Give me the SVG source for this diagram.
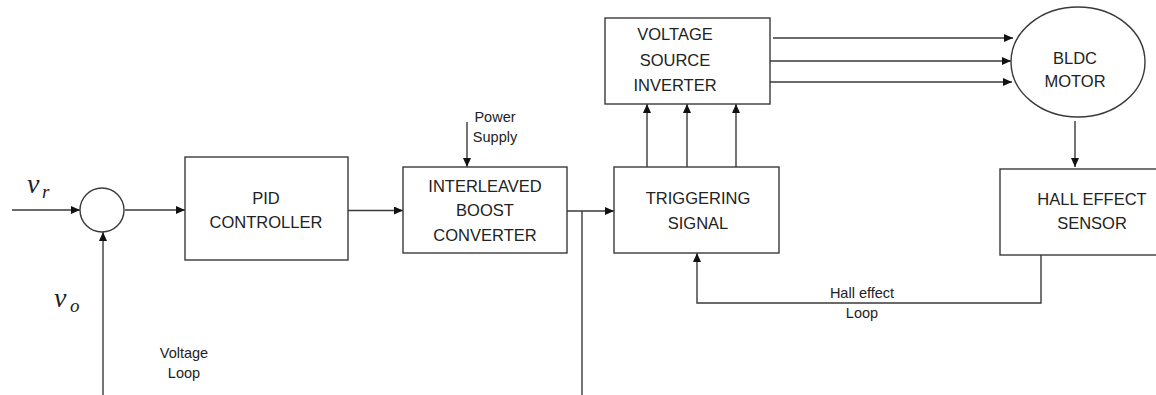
<svg xmlns="http://www.w3.org/2000/svg" width="1156" height="395" viewBox="0 0 1156 395">
<style>
.box{fill:#fff;stroke:#3a3a3a;stroke-width:1.4}
.lbl{font-family:"Liberation Sans",Arial,sans-serif;font-size:16.5px;fill:#222;text-anchor:middle;dominant-baseline:central}
.sm{font-family:"Liberation Sans",Arial,sans-serif;font-size:14.5px;fill:#222;text-anchor:middle;dominant-baseline:central}
.math{font-family:"Liberation Serif","Times New Roman",serif;font-style:italic;fill:#222}
.ln{fill:none;stroke:#3a3a3a;stroke-width:1.4}
.ar{marker-end:url(#ah)}
</style>
<defs>
<marker id="ah" markerUnits="userSpaceOnUse" markerWidth="9" markerHeight="8" refX="9" refY="4" orient="auto">
<path d="M0,0 L9,4 L0,8 z" fill="#111"/>
</marker>
</defs>
<rect width="1156" height="395" fill="#fff"/>

<g id="connectors">
<path class="ln ar" d="M12,210 H80"/>
<path class="ln ar" d="M125,210 H185"/>
<path class="ln ar" d="M348,210.5 H403"/>
<path class="ln ar" d="M467,122 V167"/>
<path class="ln ar" d="M567,211 H614"/>
<path class="ln" d="M582,211 V395"/>
<path class="ln ar" d="M103,395 V232"/>
<path class="ln ar" d="M647,167 V104"/>
<path class="ln ar" d="M687,167 V104"/>
<path class="ln ar" d="M736,167 V104"/>
<path class="ln ar" d="M773,38 H1013"/>
<path class="ln ar" d="M770,61 H1011"/>
<path class="ln ar" d="M770,82 H1012"/>
<path class="ln ar" d="M1075,121 V167"/>
<path class="ln ar" d="M1041,255 V303 H697 V253"/>
</g>

<g id="sum">
<circle cx="102" cy="210" r="22" class="box"/>
</g>
<g id="vr">
<text class="math" x="27" y="193" font-size="28">v</text>
<text class="math" x="42" y="198" font-size="19">r</text>
</g>
<g id="vo">
<text class="math" x="54" y="307" font-size="28">v</text>
<text class="math" x="70" y="312" font-size="19">o</text>
</g>

<g id="pid">
<rect x="185" y="157" width="163" height="103" class="box"/>
<text class="lbl" x="266" y="198">PID</text>
<text class="lbl" x="266" y="222">CONTROLLER</text>
</g>

<g id="ibc">
<rect x="403" y="167" width="164" height="86" class="box"/>
<text class="lbl" x="485" y="186">INTERLEAVED</text>
<text class="lbl" x="485" y="210">BOOST</text>
<text class="lbl" x="485" y="235">CONVERTER</text>
</g>

<g id="power">
<text class="sm" x="495" y="117">Power</text>
<text class="sm" x="495" y="137">Supply</text>
</g>

<g id="vsi">
<rect x="605" y="18" width="165" height="86" class="box"/>
<text class="lbl" x="675" y="34">VOLTAGE</text>
<text class="lbl" x="675" y="60">SOURCE</text>
<text class="lbl" x="675" y="85">INVERTER</text>
</g>

<g id="trig">
<rect x="614" y="167" width="165" height="86" class="box"/>
<text class="lbl" x="698" y="198">TRIGGERING</text>
<text class="lbl" x="698" y="223">SIGNAL</text>
</g>

<g id="motor">
<ellipse cx="1078" cy="62" rx="67" ry="55" class="box"/>
<text class="lbl" x="1075" y="58">BLDC</text>
<text class="lbl" x="1075" y="81">MOTOR</text>
</g>

<g id="hall">
<rect x="1000" y="169" width="170" height="86" class="box"/>
<text class="lbl" x="1092" y="199">HALL EFFECT</text>
<text class="lbl" x="1092" y="223">SENSOR</text>
</g>

<g id="labels">
<text class="sm" x="862" y="293">Hall effect</text>
<text class="sm" x="862" y="313">Loop</text>
<text class="sm" x="184" y="353">Voltage</text>
<text class="sm" x="184" y="373">Loop</text>
</g>
</svg>
